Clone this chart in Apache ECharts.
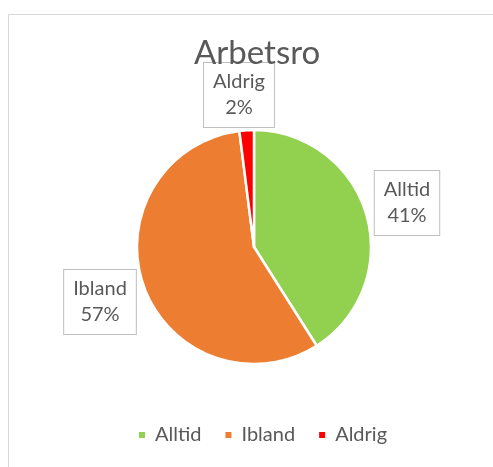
<!DOCTYPE html>
<html>
<head>
<meta charset="utf-8">
<script src="https://cdn.jsdelivr.net/npm/echarts@6/dist/echarts.min.js"></script>
<style>
  html, body { margin: 0; padding: 0; background: #fff; }
  #chart { width: 493px; height: 467px; }
</style>
</head>
<body>
<div id="chart"></div>
<script>
// chart data
var categories = ['Alltid', 'Ibland', 'Aldrig'];
var values = [41, 57, 2];
var colors = ['#92D050', '#ED7D31', '#FF0000'];

// where the callout boxes sit (label centres)
var labelSpots = [[407, 203], [100, 302], [239, 95]];

var font = 'Lato, "Open Sans", sans-serif';

var dom = document.getElementById('chart');
var myChart = echarts.init(dom);

var pieData = categories.map(function (name, i) {
    return { name: name, value: values[i], itemStyle: { color: colors[i] } };
});

var option = {
    backgroundColor: '#ffffff',
    animation: false,
    graphic: [{
        type: 'rect',
        shape: { x: 8.5, y: 14.5, width: 520, height: 500 },
        style: { fill: 'none', stroke: '#D9D9D9', lineWidth: 1 },
        silent: true
    }],
    title: {
        text: 'Arbetsro',
        left: 189,
        top: 32,
        textStyle: { fontFamily: font, fontSize: 33, fontWeight: 'normal', color: '#595959' }
    },
    legend: {
        bottom: 17,
        left: 132,
        itemWidth: 8,
        itemHeight: 8,
        itemGap: 22,
        icon: 'rect',
        textStyle: { fontFamily: font, fontSize: 20, color: '#595959', padding: [0, 0, 0, 4] },
        data: categories
    },
    series: [{
        type: 'pie',
        center: [254, 247],
        radius: 117,
        startAngle: 90,
        clockwise: true,
        data: pieData,
        itemStyle: { borderColor: '#ffffff', borderWidth: 2.5 },
        label: {
            show: true,
            position: 'outside',
            formatter: '{b}\n{d}%',
            fontFamily: font,
            fontSize: 20,
            lineHeight: 26,
            color: '#595959',
            backgroundColor: '#ffffff',
            borderColor: '#BFBFBF',
            borderWidth: 1,
            padding: [6, 9, 6, 9],
            align: 'center'
        },
        labelLine: { show: false },
        labelLayout: function (params) {
            var p = labelSpots[params.dataIndex];
            return { x: p[0], y: p[1], align: 'center', verticalAlign: 'middle' };
        },
        emphasis: { disabled: true }
    }]
};

myChart.setOption(option);
</script>
</body>
</html>
